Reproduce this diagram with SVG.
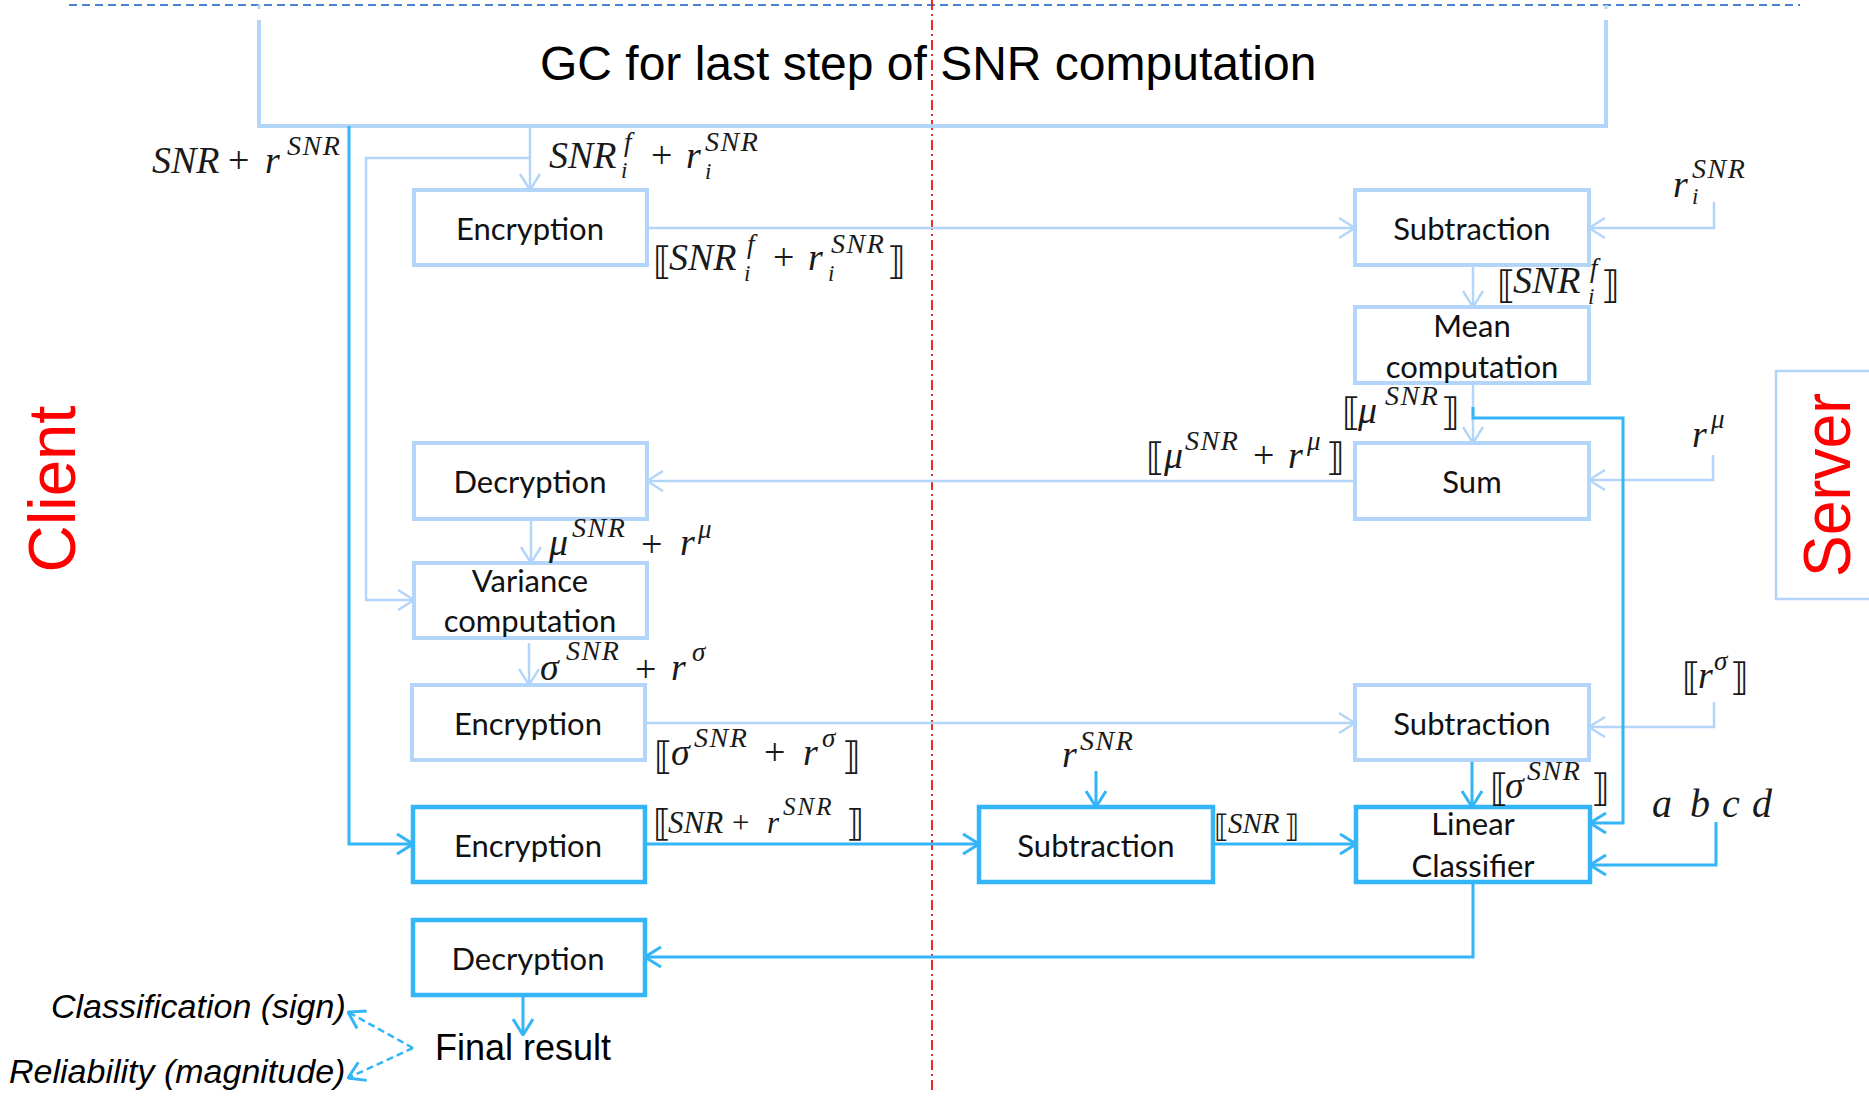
<svg xmlns="http://www.w3.org/2000/svg" width="1869" height="1096" viewBox="0 0 1869 1096">
<style>
.bg{fill:#ffffff}
.boxL{fill:#ffffff;stroke:#b4d5fa;stroke-width:4}
.boxD{fill:#ffffff;stroke:#33b5f7;stroke-width:4.5}
.lab{font-family:Lato,"Open Sans","Noto Sans",sans-serif;font-size:31px;fill:#111;text-anchor:middle}
.cL{fill:none;stroke:#b4d5fa;stroke-width:2.5}
.cD{fill:none;stroke:#33b5f7;stroke-width:3}
.cDash{fill:none;stroke:#33b5f7;stroke-width:2.5;stroke-dasharray:7 4}
.m{font-family:"Liberation Serif","DejaVu Serif",serif;font-style:italic;font-size:38px;fill:#1a1a1a}
.up{font-style:normal}
.br{font-family:"DejaVu Sans",sans-serif;font-style:normal}
.sup{font-size:28px;letter-spacing:1.5px}
.sup2{font-size:27px}
.sub{font-size:23px}
.side{font-family:"Liberation Sans",Arial,sans-serif;font-size:67px;fill:#ff0000}
.sans{font-family:"Liberation Sans",Arial,sans-serif;fill:#000}
</style>
<defs>
<marker id="aL" viewBox="0 0 18 22" refX="17" refY="11" markerWidth="18" markerHeight="22" orient="auto" markerUnits="userSpaceOnUse"><path d="M1,1 L17,11 L1,21" fill="none" stroke="#b4d5fa" stroke-width="2.5"/></marker>
<marker id="aD" viewBox="0 0 18 22" refX="17" refY="11" markerWidth="18" markerHeight="22" orient="auto" markerUnits="userSpaceOnUse"><path d="M1,1 L17,11 L1,21" fill="none" stroke="#33b5f7" stroke-width="3"/></marker>
</defs>
<rect class="bg" x="0" y="0" width="1869" height="1096"/>

<!-- frame lines -->
<g id="frame">
<line x1="69" y1="5" x2="1800" y2="5" stroke="#4a86d6" stroke-width="2" stroke-dasharray="8 5"/>
<line x1="932" y1="0" x2="932" y2="1092" stroke="#ee1111" stroke-width="1.8" stroke-dasharray="10 4 2 4"/>
</g>

<!-- GC box -->
<g id="gc">
<path d="M259,20 V126 H1606 V20" fill="none" stroke="#b4d5fa" stroke-width="4"/>
<line x1="259" y1="5" x2="259" y2="9" stroke="#b4d5fa" stroke-width="3"/>
<line x1="1606" y1="5" x2="1606" y2="9" stroke="#b4d5fa" stroke-width="3"/>
<text class="sans" x="540" y="80" font-size="48">GC for last step of SNR computation</text>
</g>

<!-- side labels -->
<g id="client"><text class="side" transform="translate(75,489) rotate(-90)" text-anchor="middle" textLength="167" lengthAdjust="spacingAndGlyphs">Client</text></g>
<g id="server">
<rect x="1776" y="371" width="120" height="228" fill="none" stroke="#b4d5fa" stroke-width="2.5"/>
<text class="side" transform="translate(1850,485) rotate(-90)" text-anchor="middle" textLength="184" lengthAdjust="spacingAndGlyphs">Server</text>
</g>

<!-- connectors -->
<g id="connectors">
<path class="cL" d="M530,126 V190" marker-end="url(#aL)"/>
<path class="cL" d="M531,158 H366 V600 H414" marker-end="url(#aL)"/>
<path class="cL" d="M647,228 H1355" marker-end="url(#aL)"/>
<path class="cL" d="M1714,202 V228 H1589" marker-end="url(#aL)"/>
<path class="cL" d="M1473,266 V307" marker-end="url(#aL)"/>
<path class="cL" d="M1473,383 V443" marker-end="url(#aL)"/>
<path class="cL" d="M1355,481 H647" marker-end="url(#aL)"/>
<path class="cL" d="M1713,455 V480 H1589" marker-end="url(#aL)"/>
<path class="cL" d="M531,519 V563" marker-end="url(#aL)"/>
<path class="cL" d="M529,643 V685" marker-end="url(#aL)"/>
<path class="cL" d="M645,723 H1355" marker-end="url(#aL)"/>
<path class="cL" d="M1714,702 V727 H1589" marker-end="url(#aL)"/>

<path class="cD" d="M349,126 V844 H413" marker-end="url(#aD)"/>
<path class="cD" d="M1473,407 V418 H1623 V823 H1590" marker-end="url(#aD)"/>
<path class="cD" d="M1472,761 V807" marker-end="url(#aD)"/>
<path class="cD" d="M645,844 H979" marker-end="url(#aD)"/>
<path class="cD" d="M1096,771 V807" marker-end="url(#aD)"/>
<path class="cD" d="M1213,844 H1356" marker-end="url(#aD)"/>
<path class="cD" d="M1716,822 V865 H1590" marker-end="url(#aD)"/>
<path class="cD" d="M1473,882 V957 H645" marker-end="url(#aD)"/>
<path class="cD" d="M523,995 V1035" marker-end="url(#aD)"/>
<path class="cDash" d="M413,1048 L348,1012" marker-end="url(#aD)"/>
<path class="cDash" d="M413,1048 L348,1078" marker-end="url(#aD)"/>
</g>

<!-- nodes -->
<g id="enc1"><rect class="boxL" x="414" y="190" width="233" height="75"/><text class="lab" x="530" y="240">Encryption</text></g>
<g id="sub1"><rect class="boxL" x="1355" y="190" width="234" height="75"/><text class="lab" x="1472" y="240">Subtraction</text></g>
<g id="mean"><rect class="boxL" x="1355" y="307" width="234" height="76"/><text class="lab" x="1472" y="337">Mean</text><text class="lab" x="1472" y="378">computation</text></g>
<g id="sum"><rect class="boxL" x="1355" y="443" width="234" height="76"/><text class="lab" x="1472" y="493">Sum</text></g>
<g id="dec1"><rect class="boxL" x="414" y="443" width="233" height="76"/><text class="lab" x="530" y="493">Decryption</text></g>
<g id="var"><rect class="boxL" x="414" y="563" width="233" height="75"/><text class="lab" x="530" y="592">Variance</text><text class="lab" x="530" y="632">computation</text></g>
<g id="enc2"><rect class="boxL" x="412" y="685" width="233" height="75"/><text class="lab" x="528" y="735">Encryption</text></g>
<g id="sub2"><rect class="boxL" x="1355" y="685" width="234" height="75"/><text class="lab" x="1472" y="735">Subtraction</text></g>
<g id="enc3"><rect class="boxD" x="413" y="807" width="232" height="75"/><text class="lab" x="528" y="857">Encryption</text></g>
<g id="sub3"><rect class="boxD" x="979" y="807" width="234" height="75"/><text class="lab" x="1096" y="857">Subtraction</text></g>
<g id="lin"><rect class="boxD" x="1356" y="807" width="234" height="75"/><text class="lab" x="1473" y="835">Linear</text><text class="lab" x="1473" y="877">Classifier</text></g>
<g id="dec2"><rect class="boxD" x="413" y="920" width="232" height="75"/><text class="lab" x="528" y="970">Decryption</text></g>
<g id="final">
<text class="sans" x="435" y="1060" font-size="36">Final result</text>
<text class="sans" x="51" y="1018" font-size="34" font-style="italic">Classification (sign)</text>
<text class="sans" x="9" y="1083" font-size="34" font-style="italic">Reliability (magnitude)</text>
</g>

<!-- math labels -->
<g id="math">
<text class="m"><tspan x="152" y="173">SNR</tspan><tspan class="up" x="228" y="173">+</tspan><tspan x="265" y="173">r</tspan><tspan class="sup" x="287" y="155">SNR</tspan></text>

<text class="m"><tspan x="549" y="168">SNR</tspan><tspan class="sup2" x="624" y="151">f</tspan><tspan class="sub" x="621" y="178">i</tspan><tspan class="up" x="651" y="168">+</tspan><tspan x="686" y="168">r</tspan><tspan class="sup" x="705" y="151">SNR</tspan><tspan class="sub" x="705" y="179">i</tspan></text>

<text class="m"><tspan class="br" x="653" y="274">⟦</tspan><tspan x="669" y="270">SNR</tspan><tspan class="sup2" x="747" y="253">f</tspan><tspan class="sub" x="744" y="281">i</tspan><tspan class="up" x="773" y="270">+</tspan><tspan x="808" y="270">r</tspan><tspan class="sup" x="831" y="253">SNR</tspan><tspan class="sub" x="828" y="281">i</tspan><tspan class="br" x="887" y="274">⟧</tspan></text>

<text class="m"><tspan x="1673" y="197">r</tspan><tspan class="sup" x="1692" y="178">SNR</tspan><tspan class="sub" x="1692" y="204">i</tspan></text>

<text class="m"><tspan class="br" x="1497" y="298">⟦</tspan><tspan x="1513" y="293">SNR</tspan><tspan class="sup2" x="1590" y="277">f</tspan><tspan class="sub" x="1588" y="304">i</tspan><tspan class="br" x="1601" y="298">⟧</tspan></text>

<text class="m"><tspan class="br" x="1342" y="425">⟦</tspan><tspan x="1358" y="423">μ</tspan><tspan class="sup" x="1385" y="405">SNR</tspan><tspan class="br" x="1441" y="425">⟧</tspan></text>

<text class="m"><tspan class="br" x="1146" y="470">⟦</tspan><tspan x="1164" y="468">μ</tspan><tspan class="sup" x="1185" y="450">SNR</tspan><tspan class="up" x="1253" y="468">+</tspan><tspan x="1288" y="468">r</tspan><tspan class="sup2" x="1307" y="450">μ</tspan><tspan class="br" x="1326" y="470">⟧</tspan></text>

<text class="m"><tspan x="1692" y="447">r</tspan><tspan class="sup2" x="1711" y="428">μ</tspan></text>

<text class="m"><tspan x="549" y="555">μ</tspan><tspan class="sup" x="572" y="537">SNR</tspan><tspan class="up" x="641" y="557">+</tspan><tspan x="680" y="555">r</tspan><tspan class="sup2" x="698" y="538">μ</tspan></text>

<text class="m"><tspan x="540" y="680">σ</tspan><tspan class="sup" x="566" y="660">SNR</tspan><tspan class="up" x="635" y="682">+</tspan><tspan x="671" y="680">r</tspan><tspan class="sup2" x="692" y="661">σ</tspan></text>

<text class="m"><tspan class="br" x="654" y="769">⟦</tspan><tspan x="671" y="765">σ</tspan><tspan class="sup" x="694" y="747">SNR</tspan><tspan class="up" x="764" y="765">+</tspan><tspan x="803" y="765">r</tspan><tspan class="sup2" x="822" y="747">σ</tspan><tspan class="br" x="842" y="769">⟧</tspan></text>

<text class="m"><tspan x="1682" y="690" class="br">⟦</tspan><tspan x="1698" y="688">r</tspan><tspan class="sup2" x="1714" y="670">σ</tspan><tspan class="br" x="1730" y="690">⟧</tspan></text>

<text class="m" style="font-size:31px"><tspan class="br" x="653" y="836" style="font-size:37px">⟦</tspan><tspan x="668" y="833">SNR</tspan><tspan class="up" x="732" y="833">+</tspan><tspan x="767" y="833">r</tspan><tspan x="783" y="815" style="font-size:25px;letter-spacing:2px">SNR</tspan><tspan class="br" x="846" y="836" style="font-size:37px">⟧</tspan></text>

<text class="m"><tspan x="1062" y="767">r</tspan><tspan class="sup" x="1080" y="750">SNR</tspan></text>

<text class="m"><tspan class="br" x="1490" y="801">⟦</tspan><tspan x="1505" y="798">σ</tspan><tspan class="sup" x="1527" y="780">SNR</tspan><tspan class="br" x="1591" y="801">⟧</tspan></text>

<text class="m" style="font-size:29px"><tspan class="br" x="1214" y="837" style="font-size:31px">⟦</tspan><tspan x="1228" y="833">SNR</tspan><tspan class="br" x="1284" y="837" style="font-size:31px">⟧</tspan></text>

<text class="m" style="font-size:40px" x="1652 1690 1722 1752" y="817">abcd</text>
</g>
</svg>
